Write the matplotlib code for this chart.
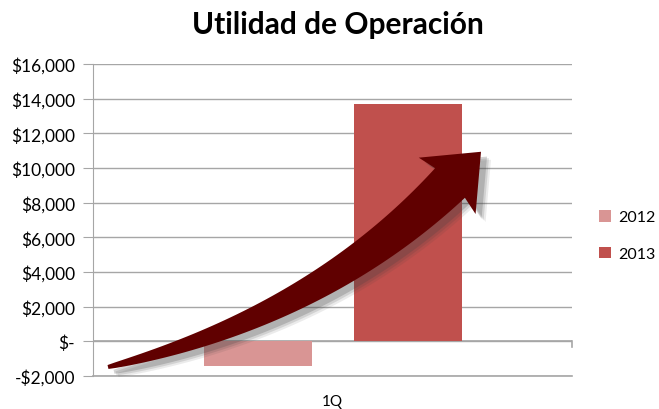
import numpy as np
import matplotlib.pyplot as plt
from matplotlib.patches import Polygon
from matplotlib.ticker import FuncFormatter

# data
categories = ['1Q']
years = ['2012', '2013']
values = [-1400, 13700]
colors = ['#d99594', '#c0504d']

plt.rcParams['font.family'] = ['Lato', 'DejaVu Sans']

fig = plt.figure(figsize=(6.59, 4.10), dpi=100)
ax = fig.add_axes([93 / 659, 1 - 377 / 410, (572 - 93) / 659, (377 - 65) / 410])

offsets = [-0.1555, 0.158]
for yr, v, c, off in zip(years, values, colors, offsets):
    ax.bar(0 + off, v, width=0.2255, color=c, label=yr, zorder=2)

ax.set_xlim(-0.5, 0.5)
ax.set_ylim(-2000, 16000)
ax.set_yticks(np.arange(-2000, 16001, 2000))


def money(v, pos):
    if v == 0:
        return '$-'
    if v < 0:
        return '-${:,.0f}'.format(-v)
    return '${:,.0f}'.format(v)


ax.yaxis.set_major_formatter(FuncFormatter(money))
ax.grid(axis='y', color='#a6a6a6', linewidth=1, zorder=0)
ax.set_axisbelow(True)
for s in ['top', 'right', 'bottom']:
    ax.spines[s].set_visible(False)
ax.spines['left'].set_color('#a6a6a6')
ax.tick_params(axis='y', length=7, color='#a6a6a6', labelsize=12.5, pad=6)
ax.set_xticks([])
ax.axhline(0, color='#a6a6a6', linewidth=1.2, zorder=1)
ax.axhline(-2000, color='#a6a6a6', linewidth=1.2, zorder=1, clip_on=False)
ax.plot([0.5, 0.5], [0, -330], color='#a6a6a6', linewidth=1.2, clip_on=False)
fig.text(332 / 659, 1 - 402 / 410, categories[0], ha='center', va='center', fontsize=11)

fig.text(338 / 659, 1 - 25 / 410, 'Utilidad de Operación', ha='center', va='center',
         fontsize=21.5, fontweight='bold')

leg = fig.legend(loc='upper left', bbox_to_anchor=(599 / 659, 1 - 211 / 410),
                 frameon=False, fontsize=11.5, handlelength=0.75, handleheight=0.75,
                 handletextpad=0.45, labelspacing=1.4, borderpad=0, borderaxespad=0)

# decorative curved arrow, in figure pixel space
W, H = 659, 410
P0 = np.array([108, 368.0])
P1 = np.array([317, 318.0])
P2 = np.array([450, 184.0])
t = np.linspace(0, 1, 60)[:, None]
pts = (1 - t) ** 2 * P0 + 2 * (1 - t) * t * P1 + t ** 2 * P2
d = 2 * (1 - t) * (P1 - P0) + 2 * t * (P2 - P1)
d = d / np.linalg.norm(d, axis=1)[:, None]
nrm = np.column_stack([-d[:, 1], d[:, 0]])
w = (2 + 19 * t[:, 0] ** 0.8)[:, None]
upper = pts + nrm * w
lower = pts - nrm * w
dend = d[-1]
nend = nrm[-1]
tip = P2 + dend * 44
barb1 = P2 + nend * 40 - dend * 4
barb2 = P2 - nend * 40 - dend * 4
poly = np.vstack([upper, barb1, tip, barb2, lower[::-1]])


def to_fig(p):
    return np.column_stack([p[:, 0] / W, 1 - p[:, 1] / H])


for k, a in [(10, 0.10), (8, 0.15), (6, 0.22)]:
    sh = poly + np.array([k, k * 0.8])
    fig.patches.append(Polygon(to_fig(sh), closed=True, transform=fig.transFigure,
                               facecolor='#404040', edgecolor='none', alpha=a, zorder=3))
fig.patches.append(Polygon(to_fig(poly), closed=True, transform=fig.transFigure,
                           facecolor='#600000', edgecolor='none', zorder=4))

fig.savefig('out.png', dpi=100)
